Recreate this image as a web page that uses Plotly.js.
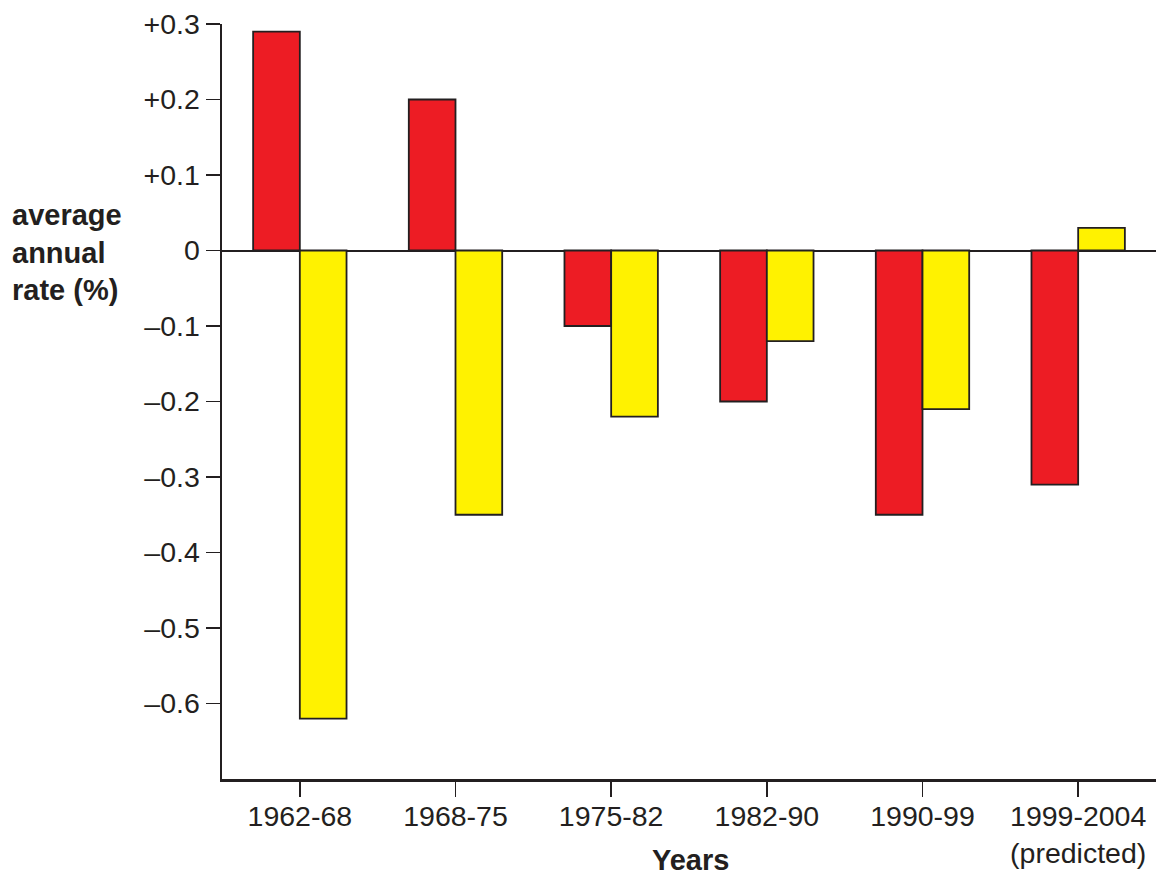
<!DOCTYPE html>
<html><head><meta charset="utf-8">
<script src="https://cdn.plot.ly/plotly-3.0.1.min.js"></script>
<style>html,body{margin:0;padding:0;background:#fff}</style>
</head><body>
<div id="chart" style="width:1160px;height:875px"></div>
<script>
const categories = ["1962-68","1968-75","1975-82","1982-90","1990-99","1999-2004<br>(predicted)"];
const seriesRed = [0.29, 0.20, -0.10, -0.20, -0.35, -0.31];
const seriesYellow = [-0.62, -0.35, -0.22, -0.12, -0.21, 0.03];
const yTickVals = [0.3, 0.2, 0.1, 0, -0.1, -0.2, -0.3, -0.4, -0.5, -0.6];
const yTickText = ["+0.3","+0.2","+0.1","0","\u20130.1","\u20130.2","\u20130.3","\u20130.4","\u20130.5","\u20130.6"];

const ink = "#231f20";
const font = "Liberation Sans, Arial, Helvetica, sans-serif";

const traces = [
  {type:"bar", x:categories, y:seriesRed, marker:{color:"#ed1c24", line:{color:ink, width:1.8}}, hoverinfo:"none"},
  {type:"bar", x:categories, y:seriesYellow, marker:{color:"#fff200", line:{color:ink, width:1.8}}, hoverinfo:"none"}
];

const layout = {
  width:1160, height:875,
  margin:{l:222, r:4, t:24, b:96},
  paper_bgcolor:"#fff", plot_bgcolor:"#fff",
  showlegend:false,
  barmode:"group", bargap:0.4, bargroupgap:0,
  font:{family:font, size:29, color:ink},
  xaxis:{
    type:"category", range:[-0.5,5.5], showgrid:false, zeroline:false,
    showline:true, linecolor:ink, linewidth:2.5,
    ticks:"outside", ticklen:15, tickwidth:1.5, tickcolor:ink,
    ticklabelstandoff:-5,
    tickfont:{family:font, size:28.5, color:ink}
  },
  yaxis:{
    range:[-0.7,0.3], showgrid:false,
    zeroline:true, zerolinecolor:ink, zerolinewidth:2,
    showline:true, linecolor:ink, linewidth:2.5,
    ticks:"outside", ticklen:14, tickwidth:1.5, tickcolor:ink,
    tickmode:"array", tickvals:yTickVals, ticktext:yTickText,
    tickfont:{family:font, size:28.5, color:ink}
  },
  annotations:[
    {xref:"paper", yref:"paper", x:(10-222)/934, y:(779-253)/755, xanchor:"left", yanchor:"middle",
     align:"left", showarrow:false, text:"<b>average<br>annual<br>rate (%)</b>",
     font:{family:font, size:29, color:ink}},
    {xref:"paper", yref:"paper", x:(690-222)/934, y:(779-860)/755, xanchor:"center", yanchor:"middle",
     showarrow:false, text:"<b>Years</b>", font:{family:font, size:29, color:ink}}
  ]
};

Plotly.newPlot("chart", traces, layout, {staticPlot:true, displayModeBar:false});
</script>
</body></html>
